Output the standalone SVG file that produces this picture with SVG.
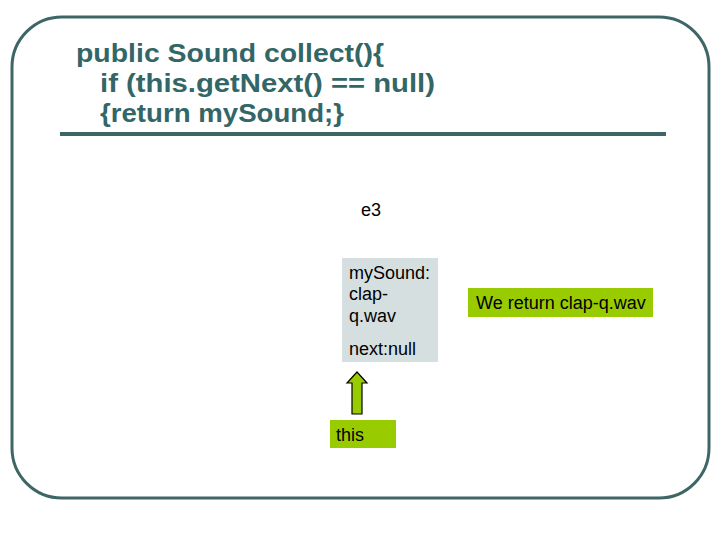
<svg xmlns="http://www.w3.org/2000/svg" width="720" height="540" viewBox="0 0 720 540">
<style>
.frame{fill:none;stroke:#3f6666;stroke-width:3}
.code{font-family:"Liberation Sans",Arial,sans-serif;font-weight:bold;font-size:25px;fill:#336666}
.t{font-family:"Liberation Sans",Arial,sans-serif;font-size:18px;fill:#000}
.gray{fill:#d6dfe0}
.green{fill:#99cc00}
</style>
<rect width="720" height="540" fill="#fff"/>
<rect class="frame" x="12" y="17" width="697" height="481" rx="50" ry="50"/>
<g id="code">
<text class="code" x="76" y="62" textLength="308" lengthAdjust="spacingAndGlyphs">public Sound collect(){</text>
<text class="code" x="100" y="92" textLength="335" lengthAdjust="spacingAndGlyphs">if (this.getNext() == null)</text>
<text class="code" x="100" y="122" textLength="244" lengthAdjust="spacingAndGlyphs">{return mySound;}</text>
</g>
<rect x="60" y="132" width="606" height="4" fill="#3f6666"/>
<g id="e3">
<text class="t" x="361" y="216">e3</text>
</g>
<g id="node-e3">
<rect class="gray" x="342" y="258" width="96" height="104"/>
<text class="t" x="349" y="279">mySound:</text>
<text class="t" x="349" y="300">clap-</text>
<text class="t" x="349" y="322">q.wav</text>
<text class="t" x="349" y="355">next:null</text>
</g>
<g id="result">
<rect class="green" x="468" y="288" width="185" height="29"/>
<text class="t" x="476" y="309">We return clap-q.wav</text>
</g>
<g id="this">
<rect class="green" x="330" y="420" width="66" height="28"/>
<text class="t" x="336" y="441" font-size="19" textLength="28" lengthAdjust="spacingAndGlyphs">this</text>
</g>
<g id="connectors">
<polygon points="357,372 367,383 362,383 362,414 352,414 352,383 347,383" fill="#99cc00" stroke="#000" stroke-width="1.2" stroke-linejoin="miter"/>
</g>
</svg>
